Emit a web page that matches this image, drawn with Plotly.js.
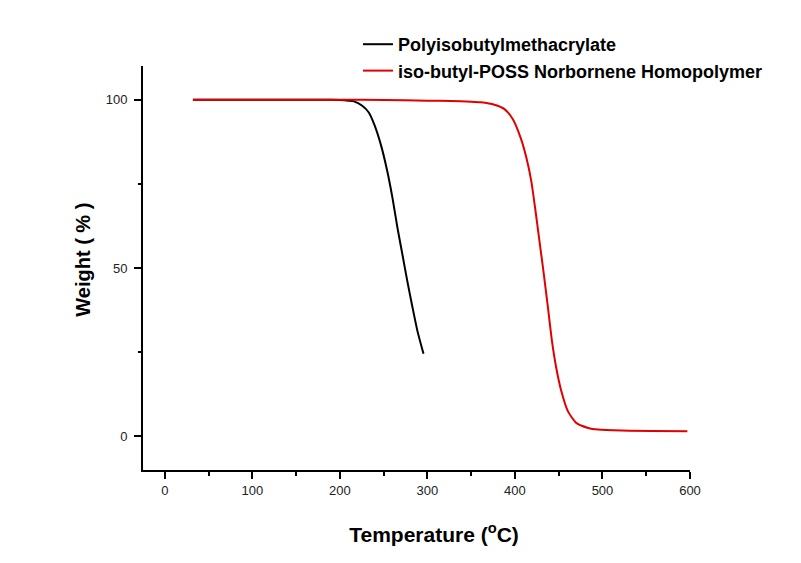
<!DOCTYPE html>
<html>
<head>
<meta charset="utf-8">
<script src="https://cdn.plot.ly/plotly-3.0.1.min.js"></script>
<style>html,body{margin:0;padding:0;background:#fff;}#chart{width:801px;height:563px;}</style>
</head>
<body>
<div id="chart"></div>
<script>
// Polyisobutylmethacrylate TGA curve
const pibmaTemp = [32, 100, 150, 190, 200, 210, 216, 225.5, 233, 239, 246.6, 254, 260, 265.7, 271.4, 277, 283, 288.6, 295.5];
const pibmaWeight = [100, 100, 100, 100, 99.9, 99.7, 99.5, 98.2, 96.2, 92.8, 86.8, 78.9, 70.9, 62, 54, 46.1, 38.2, 31.25, 24.5];

// iso-butyl-POSS Norbornene Homopolymer TGA curve
const possTemp = [32, 100, 200, 250, 300, 327, 350, 361, 376.5, 388, 397.6, 407, 413, 418.6, 423, 428, 433, 437.7, 442.3, 447.2, 453, 460.6, 470, 483.6, 495, 521.8, 597];
const possWeight = [100, 100, 100, 99.9, 99.7, 99.6, 99.4, 99.2, 98.5, 97.2, 94.2, 88.3, 82.8, 75.9, 67.9, 58, 48.1, 38.2, 28.3, 20.3, 13.4, 7.4, 4, 2.5, 2, 1.7, 1.5];

const seriesNames = ["Polyisobutylmethacrylate", "iso-butyl-POSS Norbornene Homopolymer"];
const xTicks = [0, 100, 200, 300, 400, 500, 600];
const yTicks = [0, 50, 100];

const font = "Liberation Sans, Arial, sans-serif";

const traces = [
  {x: pibmaTemp, y: pibmaWeight, name: seriesNames[0], mode: "lines",
   line: {color: "#000000", width: 2, shape: "spline", smoothing: 0.6}},
  {x: possTemp, y: possWeight, name: seriesNames[1], mode: "lines",
   line: {color: "#e00000", width: 2, shape: "spline", smoothing: 0.6}}
];

const axisCommon = {
  showgrid: false, zeroline: false, showline: true, linecolor: "#000", linewidth: 2,
  ticks: "outside", tickcolor: "#000", tickwidth: 2, ticklen: 7,
  tickfont: {family: font, size: 13, color: "#222"}, mirror: false
};

const pad = n => "&nbsp;".repeat(n);

const layout = {
  width: 801, height: 563,
  margin: {l: 143, r: 111, t: 66, b: 93},
  paper_bgcolor: "#fff", plot_bgcolor: "#fff",
  showlegend: true,
  legend: {x: 0.393, y: 1.099, xanchor: "left", yanchor: "top",
           font: {family: font, size: 18, color: "#000", weight: "bold"},
           bgcolor: "rgba(0,0,0,0)", tracegroupgap: 0},
  xaxis: Object.assign({}, axisCommon, {
    range: [-25, 600], tickvals: xTicks,
    minor: {dtick: 50, tick0: 0, ticks: "outside", ticklen: 4, tickwidth: 2, tickcolor: "#000"},
    title: {text: "<b>" + pad(6) + "Temperature (<sup>o</sup>C)</b>", font: {family: font, size: 21, color: "#000"}, standoff: 31}
  }),
  yaxis: Object.assign({}, axisCommon, {
    range: [-10, 110], tickvals: yTicks, ticklabelstandoff: 4,
    minor: {dtick: 25, tick0: 0, ticks: "outside", ticklen: 3, tickwidth: 2, tickcolor: "#000"},
    title: {text: "<b>" + pad(3) + "Weight ( % )</b>", font: {family: font, size: 20, color: "#000"}, standoff: 10}
  })
};

Plotly.newPlot("chart", traces, layout, {displayModeBar: false, staticPlot: true});
</script>
</body>
</html>
